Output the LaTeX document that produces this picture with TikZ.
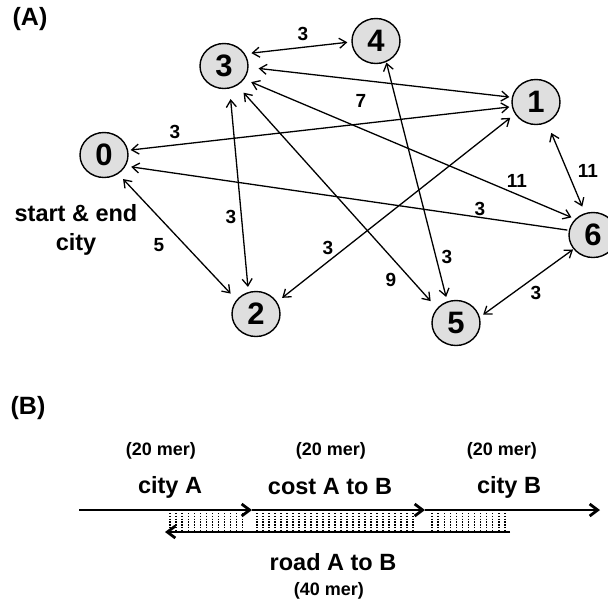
\documentclass[tikz,border=0pt]{standalone}
\usepackage{fontspec}
\setmainfont{Liberation Sans}
\usetikzlibrary{arrows.meta,shapes.geometric}
\begin{document}
\begin{tikzpicture}[x=1pt,y=-1pt,
  city/.style={draw, ellipse, fill=gray!25, line width=1.4pt, minimum width=48pt, minimum height=45pt, inner sep=0pt, font=\fontsize{31}{31}\selectfont\bfseries},
  wlabel/.style={font=\fontsize{19}{19}\selectfont\bfseries, inner sep=0pt},
  biglabel/.style={font=\fontsize{23.5}{29}\selectfont\bfseries, inner sep=0pt, align=center},
  panel/.style={font=\fontsize{25}{25}\selectfont\bfseries, inner sep=0pt},
  merlabel/.style={font=\fontsize{18}{18}\selectfont\bfseries, inner sep=0pt},
  edge/.style={line width=1.3pt, {Straight Barb[length=7pt,width=10pt]}-{Straight Barb[length=7pt,width=10pt]}},
  oneway/.style={line width=1.3pt, -{Straight Barb[length=7pt,width=10pt]}},
  road/.style={line width=2.8pt, -{Straight Barb[length=8pt,width=12pt]}},
  dots/.style={line width=1.3pt, dash pattern=on 1.3pt off 1.5pt}
]
\useasboundingbox (0,0) rectangle (608,600);
\clip (0,0) rectangle (608,600);

% panel labels
\node[panel] (pA) at (30,19) {(A)};
\node[panel] (pB) at (28,408) {(B)};

% cities
\node[city] (n0) at (104,155) {0};
\node[city] (n1) at (536,102) {1};
\node[city] (n2) at (256,314) {2};
\node[city] (n3) at (224,66) {3};
\node[city] (n4) at (376,41) {4};
\node[city] (n5) at (456,323) {5};
\node[city] (n6) at (593,235) {6};

\node[biglabel] (se) at (76,230) {start \& end\\city};

% roads
\draw[edge, shorten <=6.4pt, shorten >=4pt] (n3.30) -- (n4.182);
\draw[edge, shorten <=10pt, shorten >=2.5pt] (n3.-3) -- (n1.169);
\draw[edge, shorten <=2.5pt, shorten >=2.5pt] (n0.11) -- (n1.191);
\draw[oneway, shorten <=1.5pt, shorten >=5.5pt] (n6.169) -- (n0.-27);
\draw[edge, shorten <=7pt, shorten >=8.5pt] (n0.-53) -- (n2.144);
\draw[edge, shorten <=10.5pt, shorten >=5pt] (n3.-76) -- (n2.109);
\draw[edge, shorten <=9.5pt, shorten >=9.5pt] (n3.-56) -- (n5.142);
\draw[edge, shorten <=7.5pt, shorten >=4pt] (n3.-33) -- (n6.138);
\draw[edge, shorten <=11pt, shorten >=7pt] (n1.-62) -- (n6.110);
\draw[edge, shorten <=0.5pt, shorten >=4.5pt] (n4.-64.5) -- (n5.112);
\draw[edge, shorten <=6pt, shorten >=6.5pt] (n1.210) -- (n2.30);
\draw[edge, shorten <=4pt, shorten >=0.5pt] (n5.14.5) -- (n6.216);

% weights
\node[wlabel] (w34) at (303,34) {3};
\node[wlabel] (w31) at (361,101) {7};
\node[wlabel] (w01) at (175,132) {3};
\node[wlabel] (w60) at (480,209) {3};
\node[wlabel] (w02) at (159,245) {5};
\node[wlabel] (w32) at (231,217) {3};
\node[wlabel] (w35) at (391,280) {9};
\node[wlabel] (w36) at (517,181) {11};
\node[wlabel] (w16) at (588,171) {11};
\node[wlabel] (w45) at (447,257) {3};
\node[wlabel] (w12) at (328,248) {3};
\node[wlabel] (w56) at (536,293) {3};

% panel B
\coordinate (a0) at (79,510);
\coordinate (a1) at (252,510);
\coordinate (a2) at (425,510);
\coordinate (a3) at (600,510);
\coordinate (b0) at (510,532);
\coordinate (b1) at (165,532);

\foreach \k in {0,...,12} \draw[dots] (170+\k*6.05,513) -- (170+\k*6.05,530);
\foreach \k in {0,...,26} \draw[dots] (257+\k*6,513) -- (257+\k*6,530);
\foreach \k in {0,...,12} \draw[dots] (432+\k*6.08,513) -- (432+\k*6.08,530);

\draw[road] (a0) -- (a1);
\draw[road] (a1) -- (a2);
\draw[road] (a2) -- (a3);
\draw[road] (b0) -- (b1);

\node[merlabel] (m1) at (161,451) {(20 mer)};
\node[merlabel] (m2) at (331,451) {(20 mer)};
\node[merlabel] (m3) at (502,451) {(20 mer)};
\node[biglabel] (cA) at (170,487) {city A};
\node[biglabel] (cAB) at (330,487) {cost A to B};
\node[biglabel] (cB) at (509,487) {city B};
\node[biglabel] (rAB) at (333,562) {road A to B};
\node[merlabel] (m4) at (329,591) {(40 mer)};
\end{tikzpicture}
\end{document}
